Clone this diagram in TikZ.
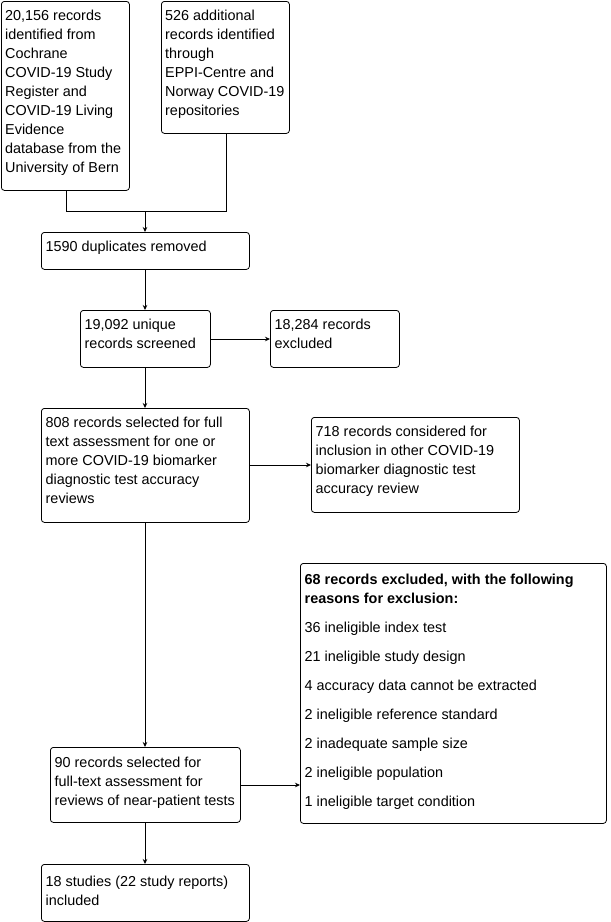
\documentclass[tikz,border=0pt]{standalone}
\usepackage{fontspec}
\setmainfont{Liberation Sans}
\usetikzlibrary{arrows.meta}
\begin{document}
\begin{tikzpicture}[x=1pt,y=-1pt,
  box/.style={draw=black, line width=0.8pt, rounded corners=3pt, anchor=north west, inner sep=0pt},
  txt/.style={anchor=north west, inner sep=0pt, align=left, font=\fontsize{14.4}{19}\selectfont},
  conn/.style={draw=black, line width=0.8pt},
  arr/.style={conn, -{Stealth[length=5pt,width=4.5pt]}}]
\useasboundingbox[fill=white] (0,0) rectangle (611,922);

% boxes
\node[box, minimum width=128pt, minimum height=189pt] (a) at (1,1) {};
\node[box, minimum width=128pt, minimum height=132pt] (b) at (161,1) {};
\node[box, minimum width=208pt, minimum height=37pt] (c) at (41,232) {};
\node[box, minimum width=130pt, minimum height=57pt] (d) at (80,310) {};
\node[box, minimum width=129pt, minimum height=57pt] (e) at (270,310) {};
\node[box, minimum width=208pt, minimum height=114pt] (f) at (41,408) {};
\node[box, minimum width=208pt, minimum height=95pt] (g) at (311,417) {};
\node[box, minimum width=190pt, minimum height=75pt] (h) at (50,747) {};
\node[box, minimum width=306pt, minimum height=260pt] (i) at (300,563) {};
\node[box, minimum width=208pt, minimum height=57pt] (j) at (41,864) {};

% texts
\node[txt] (at) at ([xshift=4pt,yshift=-6pt]a.north west) {\strut 20,156 records\\identified from\\Cochrane\\COVID-19 Study\\Register and\\COVID-19 Living\\Evidence\\database from the\\University of Bern};
\node[txt] (bt) at ([xshift=4pt,yshift=-6pt]b.north west) {\strut 526 additional\\records identified\\through\\EPPI-Centre and\\Norway COVID-19\\repositories};
\node[txt] (ct) at ([xshift=4.5pt,yshift=-6pt]c.north west) {\strut 1590 duplicates removed};
\node[txt] (dt) at ([xshift=4.5pt,yshift=-6pt]d.north west) {\strut 19,092 unique\\records screened};
\node[txt] (et) at ([xshift=4.5pt,yshift=-6pt]e.north west) {\strut 18,284 records\\excluded};
\node[txt] (ft) at ([xshift=4.5pt,yshift=-6pt]f.north west) {\strut 808 records selected for full\\text assessment for one or\\more COVID-19 biomarker\\diagnostic test accuracy\\reviews};
\node[txt] (gt) at ([xshift=4.5pt,yshift=-6pt]g.north west) {\strut 718 records considered for\\inclusion in other COVID-19\\biomarker diagnostic test\\accuracy review};
\node[txt] (ht) at ([xshift=4.5pt,yshift=-7pt]h.north west) {\strut 90 records selected for\\full-text assessment for\\reviews of near-patient tests};
\node[txt] (it) at ([xshift=4.5pt,yshift=-8pt]i.north west) {\strut\textbf{68 records excluded, with the following}\\\textbf{reasons for exclusion:}\\[10pt]36 ineligible index test\\[10pt]21 ineligible study design\\[10pt]4 accuracy data cannot be extracted\\[10pt]2 ineligible reference standard\\[10pt]2 inadequate sample size\\[10pt]2 ineligible population\\[10pt]1 ineligible target condition};
\node[txt] (jt) at ([xshift=4.5pt,yshift=-9pt]j.north west) {\strut 18 studies (22 study reports)\\included};

% connectors
\coordinate (m1) at (66,211);
\coordinate (m2) at (226,211);
\coordinate (m) at (145,211);
\draw[conn] (a.south -| m1) -- (m1) -- (m2) -- (b.south -| m2);
\draw[arr] (m) -- (c.north -| m);
\draw[arr] (c.south -| m) -- (d.north -| m);
\draw[arr] (d.east |- 0,339) -- (e.west |- 0,339);
\draw[arr] (d.south -| m) -- (f.north -| m);
\draw[arr] (f.east |- 0,465) -- (g.west |- 0,465);
\draw[arr] (f.south -| m) -- (h.north -| m);
\draw[arr] (h.east |- 0,785) -- (i.west |- 0,785);
\draw[arr] (h.south -| m) -- (j.north -| m);
\end{tikzpicture}
\end{document}
